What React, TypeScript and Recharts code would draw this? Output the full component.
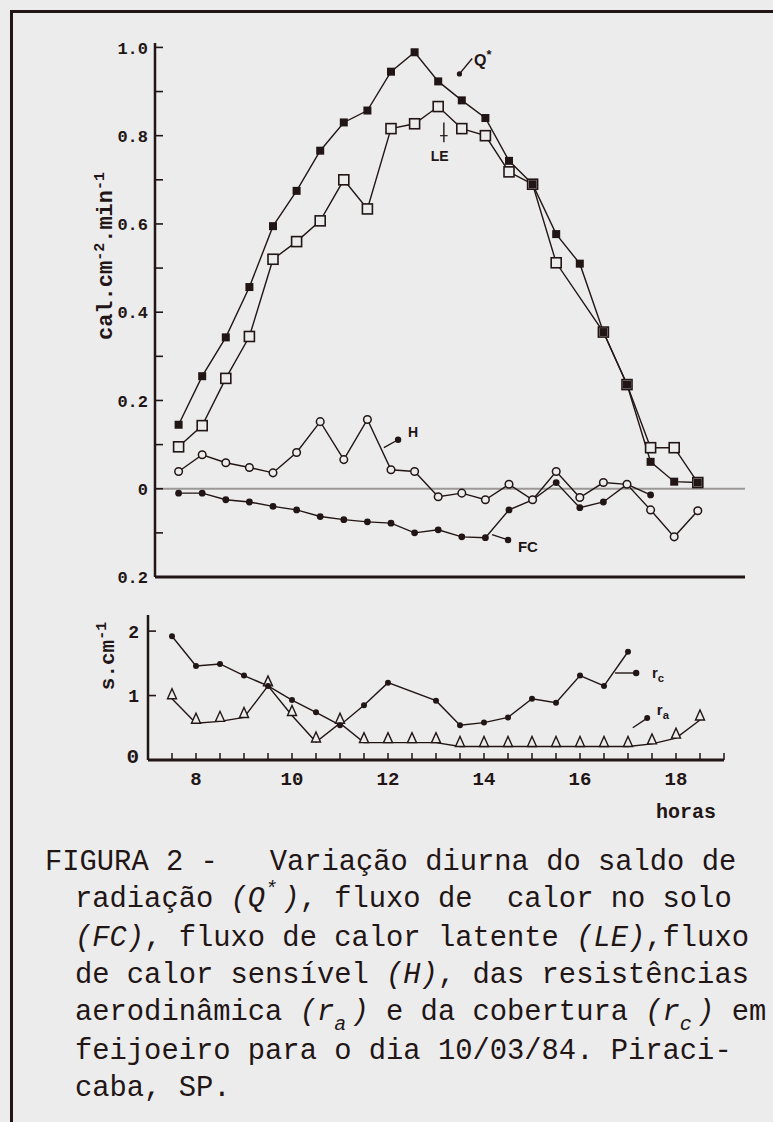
import React from "react";
import { LineChart, Line, XAxis, YAxis, ReferenceLine, ReferenceDot } from "recharts";

// horas do dia (leituras de meia em meia hora)
const hours = [7.5, 8, 8.5, 9, 9.5, 10, 10.5, 11, 11.5, 12, 12.5, 13, 13.5, 14, 14.5, 15, 15.5, 16, 16.5, 17, 17.5, 18, 18.5];

// painel superior – cal.cm-2.min-1
const saldoQ = [0.145, 0.255, 0.343, 0.457, 0.595, 0.675, 0.766, 0.83, 0.857, 0.945, 0.989, 0.923, 0.88, 0.84, 0.743, 0.69, 0.577, 0.51, 0.355, 0.236, 0.061, 0.016, 0.014];
const fluxoLE = [0.095, 0.143, 0.25, 0.345, 0.52, 0.56, 0.607, 0.7, 0.634, 0.816, 0.827, 0.866, 0.816, 0.8, 0.718, 0.69, 0.512, null, 0.355, 0.236, 0.093, 0.093, 0.014];
const fluxoH = [0.039, 0.077, 0.059, 0.048, 0.036, 0.082, 0.152, 0.066, 0.157, 0.043, 0.039, -0.018, -0.01, -0.025, 0.01, -0.025, 0.039, -0.02, 0.014, 0.01, -0.048, -0.109, -0.05];
const fluxoFC = [-0.01, -0.01, -0.025, -0.03, -0.04, -0.048, -0.063, -0.07, -0.075, -0.078, -0.1, -0.093, -0.109, -0.111, -0.048, -0.025, 0.014, -0.043, -0.03, 0.01, -0.014, null, null];

// painel inferior – s.cm-1
const resistRc = [1.92, 1.46, 1.49, 1.31, 1.15, 0.93, 0.74, 0.54, 0.85, 1.2, null, 0.92, 0.54, 0.58, 0.66, 0.95, 0.89, 1.31, 1.15, 1.68, null, null, null];
const resistRa = [0.95, 0.57, 0.6, 0.66, 1.15, 0.69, 0.28, 0.57, 0.27, 0.27, 0.27, 0.27, 0.21, 0.21, 0.21, 0.21, 0.21, 0.21, 0.21, 0.21, 0.25, 0.34, 0.62];

const topMajorTicks = [-0.2, 0, 0.2, 0.4, 0.6, 0.8, 1.0];
const topTickLabels = ["0.2", "0", "0.2", "0.4", "0.6", "0.8", "1.0"];
const topMinorTicks = [-0.1, 0.1, 0.3, 0.5, 0.7, 0.9];

const bottomYTicks = [0, 1, 2];
const bottomYLabels = ["0", "1", "2"];
const halfHourTicks = [7.5, 8, 8.5, 9, 9.5, 10, 10.5, 11, 11.5, 12, 12.5, 13, 13.5, 14, 14.5, 15, 15.5, 16, 16.5, 17, 17.5, 18, 18.5, 19];
const hourLabels = [8, 10, 12, 14, 16, 18];

const topData = hours.map((hr, i) => ({ hr, q: saldoQ[i], le: fluxoLE[i], h: fluxoH[i], fc: fluxoFC[i] }));
const bottomData = hours.map((hr, i) => ({ hr, rc: resistRc[i], ra: resistRa[i] }));

const ink = "#221515";
const paper = "#ececec";
const mono = "'Liberation Mono', 'DejaVu Sans Mono', monospace";
const sans = "'Liberation Sans', Arial, sans-serif";
const capSize = 28.8;
const cell = capSize * 0.6;

const has = (p: any) => typeof p.cx === "number" && typeof p.cy === "number" && Number.isFinite(p.cy) && p.value != null;

const filledSquare = (p: any) =>
  has(p) ? <rect key={p.index} x={p.cx - 4} y={p.cy - 4} width={8} height={8} fill={ink} /> : <g key={p.index} />;
const openSquare = (p: any) =>
  has(p) ? <rect key={p.index} x={p.cx - 5} y={p.cy - 5} width={10} height={10} fill={paper} stroke={ink} strokeWidth={1.6} /> : <g key={p.index} />;
const openCircle = (p: any) =>
  has(p) ? <circle key={p.index} cx={p.cx} cy={p.cy} r={3.8} fill={paper} stroke={ink} strokeWidth={1.5} /> : <g key={p.index} />;
const filledCircle = (r: number) => (p: any) =>
  has(p) ? <circle key={p.index} cx={p.cx} cy={p.cy} r={r} fill={ink} /> : <g key={p.index} />;
const openTriangle = (p: any) =>
  has(p) ? (
    <path key={p.index} d={`M${p.cx - 4.5},${p.cy} L${p.cx + 4.5},${p.cy} L${p.cx},${p.cy - 10} Z`} fill={paper} stroke={ink} strokeWidth={1.4} />
  ) : (
    <g key={p.index} />
  );

const near = (a: number, b: number) => Math.abs(a - b) < 1e-6;

const TopYTick = (p: any) => {
  const v = p.payload.value;
  const idx = topMajorTicks.findIndex((t) => near(t, v));
  return (
    <g>
      <line x1={p.x} x2={p.x + 8} y1={p.y} y2={p.y} stroke={ink} strokeWidth={1.6} />
      {idx >= 0 && (
        <text x={p.x - 7} y={p.y} dy="0.36em" textAnchor="end" fontFamily={mono} fontWeight="bold" fontSize={17} fill={ink}>
          {topTickLabels[idx]}
        </text>
      )}
    </g>
  );
};

const BottomYTick = (p: any) => {
  const v = p.payload.value;
  const idx = bottomYTicks.findIndex((t) => near(t, v));
  return (
    <g>
      {v > 0 && <line x1={p.x} x2={p.x + 8} y1={p.y} y2={p.y} stroke={ink} strokeWidth={1.6} />}
      <text x={p.x - 9} y={v === 0 ? p.y - 5 : p.y} dy="0.36em" textAnchor="end" fontFamily={mono} fontWeight="bold" fontSize={v === 0 ? 21 : 18} fill={ink}>
        {bottomYLabels[idx]}
      </text>
    </g>
  );
};

const BottomXTick = (p: any) => {
  const v = p.payload.value;
  const lab = hourLabels.find((t) => near(t, v));
  return (
    <g>
      <line x1={p.x} x2={p.x} y1={p.y} y2={p.y - 7} stroke={ink} strokeWidth={1.5} />
      {lab != null && (
        <text x={p.x} y={p.y + 25} textAnchor="middle" fontFamily={mono} fontWeight="bold" fontSize={19} fill={ink}>
          {lab}
        </text>
      )}
    </g>
  );
};

const tag = (main: string, sub?: string, sup?: string, size = 15) => (p: any) =>
  (
    <text x={p.cx} y={p.cy} fontFamily={sans} fontWeight="bold" fontSize={size} fill={ink}>
      {main}
      {sup && (
        <tspan dy={-7} fontSize={size * 0.8}>
          {sup}
        </tspan>
      )}
      {sub && (
        <tspan dy={4} fontSize={size * 0.75}>
          {sub}
        </tspan>
      )}
    </text>
  );

const Shift = ({ ch, top }: { ch: string; top: number }) => (
  <span style={{ position: "relative", top, fontSize: 20, display: "inline-block", width: cell, textAlign: "left" }}>{ch}</span>
);

export default function App() {
  return (
    <div style={{ position: "absolute", left: 0, top: 0, width: 773, height: 1122, overflow: "hidden", background: paper }}>
      <div style={{ position: "absolute", left: 10, top: 10, width: 900, height: 1300, borderTop: `3px solid ${ink}`, borderLeft: `3px solid ${ink}` }} />

      {/* painel superior */}
      <div style={{ position: "absolute", left: 0, top: 0 }}>
        <LineChart width={773} height={600} data={topData} margin={{ top: 43, right: 28, bottom: 22, left: 95 }}>
          <XAxis dataKey="hr" type="number" domain={[7, 19.5]} tick={false} tickLine={false} height={1} axisLine={{ stroke: ink, strokeWidth: 3 }} />
          <YAxis
            type="number"
            domain={[-0.2, 1.01]}
            ticks={[...topMajorTicks, ...topMinorTicks].sort((a, b) => a - b)}
            interval={0}
            width={60}
            tickSize={0}
            tickMargin={0}
            tickLine={false}
            tick={TopYTick}
            axisLine={{ stroke: ink, strokeWidth: 2.5 }}
          />
          <ReferenceLine y={0} stroke="#9c9898" strokeWidth={2} />
          <Line dataKey="fc" type="linear" stroke={ink} strokeWidth={1.4} dot={filledCircle(3.4)} connectNulls isAnimationActive={false} />
          <Line dataKey="h" type="linear" stroke={ink} strokeWidth={1.4} dot={openCircle} connectNulls isAnimationActive={false} />
          <Line dataKey="le" type="linear" stroke={ink} strokeWidth={1.4} dot={openSquare} connectNulls isAnimationActive={false} />
          <Line dataKey="q" type="linear" stroke={ink} strokeWidth={1.4} dot={filledSquare} connectNulls isAnimationActive={false} />

          <ReferenceLine segment={[{ x: 13.45, y: 0.94 }, { x: 13.72, y: 0.975 }]} stroke={ink} strokeWidth={1.4} />
          <ReferenceDot x={13.45} y={0.94} r={2.6} fill={ink} stroke="none" />
          <ReferenceDot x={13.76} y={0.958} r={0} shape={tag("Q", undefined, "*", 16)} />

          <ReferenceLine segment={[{ x: 13.12, y: 0.83 }, { x: 13.12, y: 0.785 }]} stroke={ink} strokeWidth={1.4} />
          <ReferenceLine segment={[{ x: 13.04, y: 0.8 }, { x: 13.2, y: 0.8 }]} stroke={ink} strokeWidth={1.2} />
          <ReferenceDot x={12.84} y={0.742} r={0} shape={tag("LE", undefined, undefined, 14)} />

          <ReferenceLine segment={[{ x: 11.85, y: 0.093 }, { x: 12.15, y: 0.111 }]} stroke={ink} strokeWidth={1.4} />
          <ReferenceDot x={12.15} y={0.111} r={3.2} fill={ink} stroke="none" />
          <ReferenceDot x={12.36} y={0.118} r={0} shape={tag("H", undefined, undefined, 14)} />

          <ReferenceLine segment={[{ x: 14.14, y: -0.104 }, { x: 14.48, y: -0.116 }]} stroke={ink} strokeWidth={1.4} />
          <ReferenceDot x={14.48} y={-0.116} r={3.2} fill={ink} stroke="none" />
          <ReferenceDot x={14.69} y={-0.143} r={0} shape={tag("FC", undefined, undefined, 15)} />
        </LineChart>
      </div>

      {/* painel inferior */}
      <div style={{ position: "absolute", left: 0, top: 600 }}>
        <LineChart width={773} height={240} data={bottomData} margin={{ top: 15, right: 49, bottom: 50, left: 88 }}>
          <XAxis
            dataKey="hr"
            type="number"
            domain={[7, 19]}
            ticks={halfHourTicks}
            interval={0}
            height={30}
            tickSize={0}
            tickMargin={0}
            tickLine={false}
            tick={BottomXTick}
            axisLine={{ stroke: ink, strokeWidth: 3 }}
          />
          <YAxis
            type="number"
            domain={[0, 2.25]}
            ticks={bottomYTicks}
            interval={0}
            width={60}
            tickSize={0}
            tickMargin={0}
            tickLine={false}
            tick={BottomYTick}
            axisLine={{ stroke: ink, strokeWidth: 2.5 }}
          />
          <Line dataKey="ra" type="linear" stroke={ink} strokeWidth={1.4} dot={openTriangle} connectNulls isAnimationActive={false} />
          <Line dataKey="rc" type="linear" stroke={ink} strokeWidth={1.4} dot={filledCircle(3)} connectNulls isAnimationActive={false} />

          <ReferenceLine segment={[{ x: 16.73, y: 1.35 }, { x: 17.17, y: 1.35 }]} stroke={ink} strokeWidth={1.4} />
          <ReferenceDot x={17.17} y={1.35} r={3.2} fill={ink} stroke="none" />
          <ReferenceDot x={17.5} y={1.27} r={0} shape={tag("r", "c", undefined, 15)} />

          <ReferenceLine segment={[{ x: 17.1, y: 0.5 }, { x: 17.4, y: 0.65 }]} stroke={ink} strokeWidth={1.4} />
          <ReferenceDot x={17.4} y={0.65} r={3} fill={ink} stroke="none" />
          <ReferenceDot x={17.6} y={0.7} r={0} shape={tag("r", "a", undefined, 15)} />
        </LineChart>
      </div>

      {/* títulos dos eixos */}
      <svg width={773} height={1122} style={{ position: "absolute", left: 0, top: 0, pointerEvents: "none" }}>
        <text transform="rotate(-90 112 256)" x={112} y={256} textAnchor="middle" fontFamily={mono} fontWeight="bold" fontSize={22} fill={ink}>
          cal.cm<tspan dy={-8} fontSize={15}>-2</tspan>
          <tspan dy={8}>.min</tspan>
          <tspan dy={-8} fontSize={15}>-1</tspan>
        </text>
        <text transform="rotate(-90 114 656)" x={114} y={656} textAnchor="middle" fontFamily={mono} fontWeight="bold" fontSize={21} fill={ink}>
          s.cm<tspan dy={-8} fontSize={15}>-1</tspan>
        </text>
        <text x={686} y={818} textAnchor="middle" fontFamily={mono} fontWeight="bold" fontSize={20} fill={ink}>
          horas
        </text>
      </svg>

      {/* legenda */}
      <div style={{ position: "absolute", left: 45, top: 844, fontFamily: mono, fontSize: capSize, lineHeight: "37px", whiteSpace: "pre", color: ink }}>
        <div>FIGURA 2 -   Variação diurna do saldo de</div>
        <div style={{ paddingLeft: 30 }}>
          radiação <i>(Q<Shift ch="*" top={-12} />)</i>, fluxo de  calor no solo
        </div>
        <div style={{ paddingLeft: 30 }}>
          <i>(FC)</i>, fluxo de calor latente <i>(LE)</i>,fluxo
        </div>
        <div style={{ paddingLeft: 30 }}>
          de calor sensível <i>(H)</i>, das resistências
        </div>
        <div style={{ paddingLeft: 30 }}>
          aerodinâmica <i>(r<Shift ch="a" top={10} />)</i> e da cobertura <i>(r<Shift ch="c" top={10} />)</i> em
        </div>
        <div style={{ paddingLeft: 30 }}>feijoeiro para o dia 10/03/84. Piraci-</div>
        <div style={{ paddingLeft: 30 }}>caba, SP.</div>
      </div>
    </div>
  );
}
